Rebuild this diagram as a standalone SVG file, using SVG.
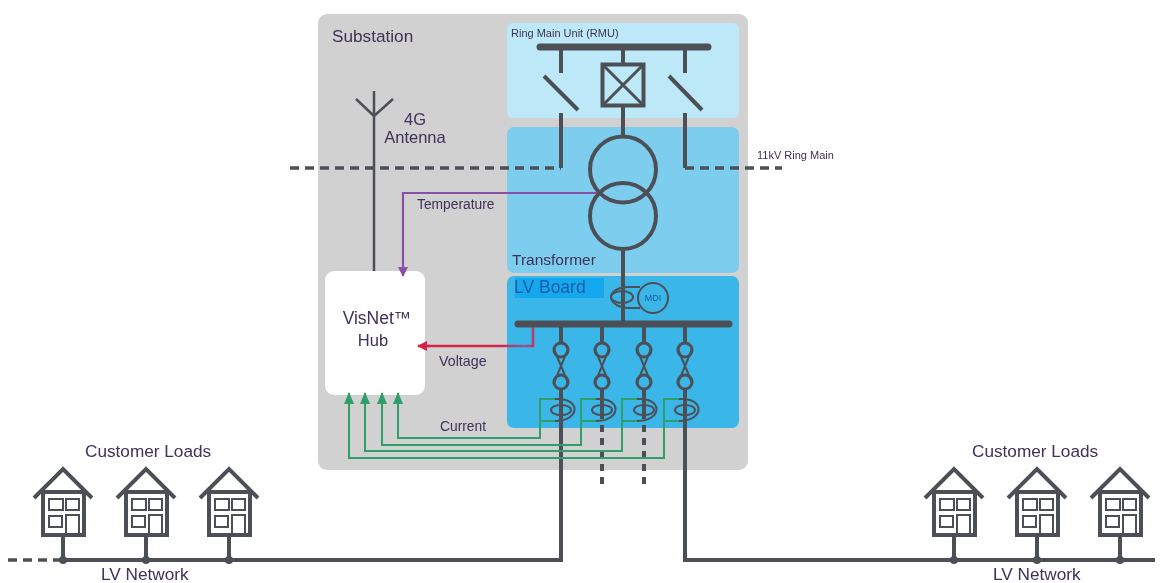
<svg xmlns="http://www.w3.org/2000/svg" width="1165" height="583" viewBox="0 0 1165 583">
<style>
text{font-family:"Liberation Sans",Arial,sans-serif;fill:#3f3058}
.w{fill:none;stroke:#4d5056;stroke-width:4}
.a{fill:none;stroke:#4d5056;stroke-width:2.500}
.t{fill:none;stroke:#4d5056;stroke-width:3}
.n{fill:none;stroke:#4d5056;stroke-width:2}
.b{fill:none;stroke:#4d5056;stroke-width:7;stroke-linecap:round}
.d{fill:none;stroke:#4d5056;stroke-width:3.500;stroke-dasharray:9 6}
.f{fill:none;stroke:#4d5056;stroke-width:4;stroke-dasharray:7 6}
.g{fill:none;stroke:#2f9e6a;stroke-width:2}
.c{font-size:17.200px}
.s{font-size:13.800px}
.m{text-anchor:middle}
</style>
<defs>
<filter id="soft" x="0" y="0" width="100%" height="100%"><feGaussianBlur stdDeviation="0.45"/></filter>
<marker id="ag" markerUnits="userSpaceOnUse" markerWidth="12" markerHeight="10" refX="11" refY="5" orient="auto" viewBox="0 0 12 10"><path d="M0 0L12 5L0 10Z" fill="#2f9e6a"/></marker>
<marker id="ap" markerUnits="userSpaceOnUse" markerWidth="10" markerHeight="10" refX="9" refY="5" orient="auto" viewBox="0 0 10 10"><path d="M0 0L10 5L0 10Z" fill="#8a4fa8"/></marker>
<marker id="ar" markerUnits="userSpaceOnUse" markerWidth="10" markerHeight="10" refX="9" refY="5" orient="auto" viewBox="0 0 10 10"><path d="M0 0L10 5L0 10Z" fill="#d4234c"/></marker>
<linearGradient id="rp" gradientUnits="userSpaceOnUse" x1="420" y1="0" x2="535" y2="0"><stop offset="0.7" stop-color="#d4234c"/><stop offset="0.9" stop-color="#8a5a9a"/><stop offset="1" stop-color="#c8305c"/></linearGradient>
<g id="house">
<path class="w" d="M-29 498L0 469L29 498"/>
<path class="w" d="M-20 492V535H21V492M-20 492H21"/>
<path class="n" d="M-14 499H0V510H-14ZM3 499H16V510H3ZM-14 516H-1V527H-14ZM3 536V515H16V536"/>
<path class="w" d="M0 536V560"/>
<circle cy="560" r="4" fill="#4d5056"/>
</g>
</defs>
<rect width="1165" height="583" fill="#fff"/>
<g filter="url(#soft)">
<g id="substation"><rect x="318" y="14" width="430" height="456" rx="9" fill="#d1d1d1"/><text class="c" x="332" y="42">Substation</text></g>
<g id="rmu-panel"><rect x="507" y="23" width="232" height="95" rx="6" fill="#bde8f7"/><text x="511" y="37" font-size="11">Ring Main Unit (RMU)</text></g>
<g id="transformer-panel"><rect x="507" y="127" width="232" height="146" rx="7" fill="#7dcdee"/><text x="512" y="265" font-size="15.500">Transformer</text></g>
<g id="lv-board-panel"><rect x="507" y="276" width="232" height="152" rx="7" fill="#3bb6e9"/><rect x="515" y="278" width="89" height="20" fill="#18a8ee"/><text x="514" y="293" font-size="17.500" style="fill:#175ea8">LV Board</text></g>
<g id="hub"><rect x="325" y="271" width="100" height="124" rx="9" fill="#fff"/><text class="m" font-size="17.500" x="377" y="324">VisNet™</text><text class="m" font-size="16.500" x="373" y="346">Hub</text></g>
<g id="connectors">
<path class="d" d="M290 168H561M685 168H782"/>
<path class="a" d="M374 271V91M356 99L374 116L393 99"/>
<path class="b" d="M540 47H708M518 324H729"/>
<path class="w" d="M561 47V73M685 47V73M561 113V168M685 113V168M544 76L578 110M669 76L702 110M623 47V64M623 106V136M623 249V324"/>
<path fill="none" stroke="#8a4fa8" stroke-width="2.200" marker-end="url(#ap)" d="M597 193H403V276"/>
<path fill="none" stroke="url(#rp)" stroke-width="2.500" d="M533 327V346H428"/>
<path fill="none" stroke="#d4234c" stroke-width="2.500" marker-end="url(#ar)" d="M430 346H418"/>
<path class="w" d="M561 324V342M602 324V342M644 324V342M685 324V342M561 390V560H60M685 390V560H1155M602 390V412M644 390V412"/>
<path class="f" d="M602 412V488M644 412V488"/>
<path class="d" d="M8 560H60"/>
<path class="g" marker-end="url(#ag)" d="M555 399H540V438H398V393"/>
<path class="g" marker-end="url(#ag)" d="M596 399H581V445H382V393"/>
<path class="g" marker-end="url(#ag)" d="M637 399H622V451H365V393"/>
<path class="g" marker-end="url(#ag)" d="M679 399H664V458H349V393"/>
<path class="g" d="M540 421H556M581 421H597M622 421H638M664 421H680"/>
</g>
<g id="rmu-breaker"><rect x="602.500" y="64.500" width="41" height="41" class="w"/><path class="t" d="M603 65L643 105M643 65L603 105"/></g>
<g id="transformer"><circle class="w" cx="623" cy="169.500" r="33"/><circle class="w" cx="623" cy="216" r="33"/></g>
<g id="mdi"><circle class="n" cx="653" cy="298" r="15"/><path class="n" d="M640 287H628C618 287 611 292 611 297C611 302 618 308 628 308H640"/><ellipse class="n" cx="622" cy="297" rx="11" ry="6"/><text x="653" y="301" font-size="9" class="m" style="fill:#175ea8">MDI</text></g>
<g id="feeder-1"><circle class="t" cx="561" cy="350" r="7"/><circle class="t" cx="561" cy="382" r="7"/><path class="n" d="M553.500 348L568.500 384M568.500 348L553.500 384"/><ellipse class="n" cx="561" cy="410" rx="10" ry="5"/><path class="n" d="M555 399C581 397 581 421 555 421"/></g>
<g id="feeder-2"><circle class="t" cx="602" cy="350" r="7"/><circle class="t" cx="602" cy="382" r="7"/><path class="n" d="M594.500 348L609.500 384M609.500 348L594.500 384"/><ellipse class="n" cx="602" cy="410" rx="10" ry="5"/><path class="n" d="M596 399C622 397 622 421 596 421"/></g>
<g id="feeder-3"><circle class="t" cx="644" cy="350" r="7"/><circle class="t" cx="644" cy="382" r="7"/><path class="n" d="M636.500 348L651.500 384M651.500 348L636.500 384"/><ellipse class="n" cx="644" cy="410" rx="10" ry="5"/><path class="n" d="M637 399C663 397 663 421 637 421"/></g>
<g id="feeder-4"><circle class="t" cx="685" cy="350" r="7"/><circle class="t" cx="685" cy="382" r="7"/><path class="n" d="M677.500 348L692.500 384M692.500 348L677.500 384"/><ellipse class="n" cx="685" cy="410" rx="10" ry="5"/><path class="n" d="M679 399C705 397 705 421 679 421"/></g>
<g id="labels">
<text class="m" font-size="16.500" x="415" y="125">4G</text><text class="m" font-size="16.500" x="415" y="143">Antenna</text>
<text x="757" y="159" font-size="11">11kV Ring Main</text>
<text class="s" x="417" y="209">Temperature</text>
<text x="439" y="366" font-size="14.300">Voltage</text>
<text class="s" x="440" y="431">Current</text>
<text class="c" x="85" y="457">Customer Loads</text>
<text class="c" x="972" y="457">Customer Loads</text>
<text class="c" x="101" y="580">LV Network</text>
<text class="c" x="993" y="580">LV Network</text>
</g>
<g id="house-l1"><use href="#house" x="63"/></g>
<g id="house-l2"><use href="#house" x="146"/></g>
<g id="house-l3"><use href="#house" x="229"/></g>
<g id="house-r1"><use href="#house" x="954"/></g>
<g id="house-r2"><use href="#house" x="1037"/></g>
<g id="house-r3"><use href="#house" x="1120"/></g>
</g>
</svg>
